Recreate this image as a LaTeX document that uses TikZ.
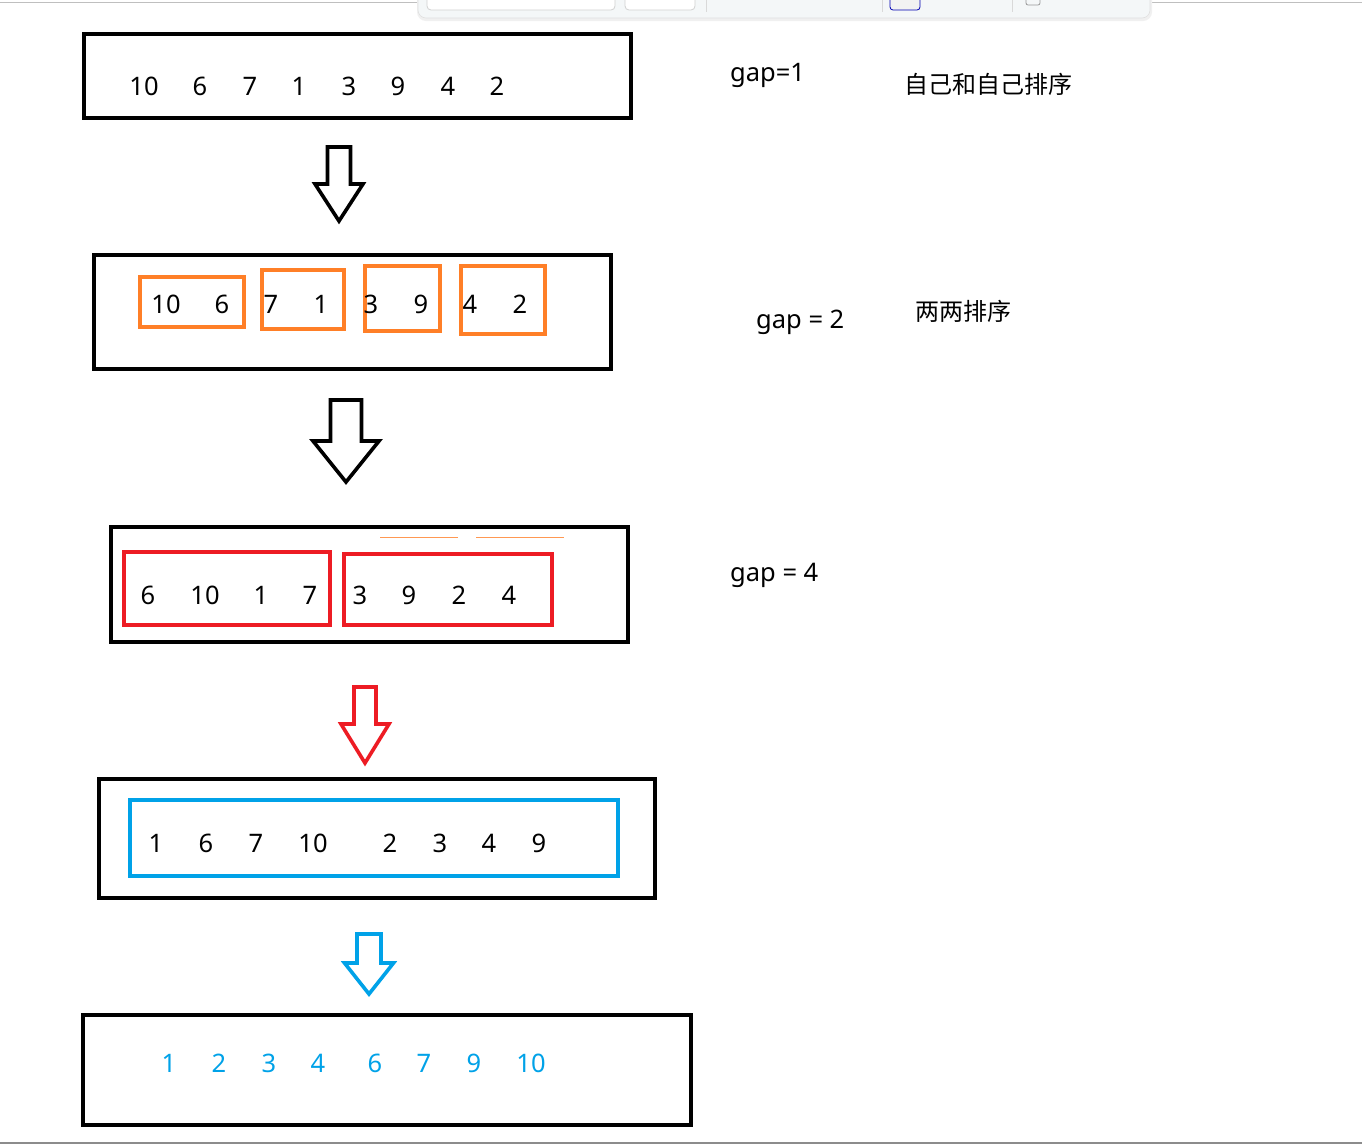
\documentclass[tikz,border=0pt]{standalone}
\usepackage{fontspec}
\setmainfont{Noto Sans}
\newfontfamily\cjk{Noto Sans CJK SC}
\definecolor{porange}{HTML}{FF7F27}
\definecolor{pred}{HTML}{ED1C24}
\definecolor{pblue}{HTML}{00A2E8}
\definecolor{tbfill}{HTML}{F4F7F8}
\newcommand{\bigdownarrow}[7]{%
  % #1 center x, #2 top y, #3 shoulder y, #4 tip y, #5 half shaft, #6 half head, #7 colour
  \draw[line width=3.6pt, draw=#7, line join=miter, fill=white]
    ({#1-#5},#2) -- ({#1+#5},#2) -- ({#1+#5},#3) -- ({#1+#6},#3) -- (#1,#4)
    -- ({#1-#6},#3) -- ({#1-#5},#3) -- cycle;}
\tikzset{
  bbox/.style={draw=black, line width=4pt, inner sep=0pt},
  obox/.style={draw=porange, line width=4pt, inner sep=0pt},
  rbox/.style={draw=pred, line width=4pt, inner sep=0pt},
  cbox/.style={draw=pblue, line width=4pt, inner sep=0pt},
  num/.style={inner sep=0pt, font=\fontsize{25.5}{30}\selectfont, text=black},
  bnum/.style={num, text=pblue},
  lab/.style={inner sep=0pt, anchor=base west, font=\fontsize{25.5}{30}\selectfont},
  clab/.style={inner sep=0pt, anchor=west, font=\cjk\fontsize{24}{28}\selectfont},
  tb/.style={draw=black!18, line width=0.8pt, rounded corners=4pt, fill=white},
}
\begin{document}
\begin{tikzpicture}[x=1pt,y=-1pt]
\useasboundingbox (0,0) rectangle (1362,1144);
\fill[white] (0,0) rectangle (1362,1144);
% screen edges
\draw[black!25, line width=1pt] (0,2.5) -- (1362,2.5);
\draw[black!45, line width=1.5pt] (0,1143) -- (1362,1143);
% toolbar fragment
\fill[black!6, rounded corners=9pt] (417,-12) rectangle (1152,21);
\node[draw=black!12, fill=tbfill, rounded corners=8pt, minimum width=732pt, minimum height=30pt, inner sep=0pt, line width=0.6pt] (toolbar) at (784,3) {};
\node[tb, minimum width=188pt, minimum height=22pt] (tbin) at (521,-1) {};
\node[tb, minimum width=70pt, minimum height=22pt] (tbsz) at (660,-1) {};
\node[draw=blue!70!black, line width=0.8pt, rounded corners=3pt, fill=black!5, minimum width=30pt, minimum height=20pt, inner sep=0pt] (tbcol) at (905,0) {};
\node[draw=black!40, line width=0.8pt, rounded corners=2pt, minimum width=14pt, minimum height=10pt, inner sep=0pt] (tbchk) at (1033,0) {};
\draw[black!15, line width=0.8pt] (706,-3) -- (706,12) (882,-3) -- (882,12) (1012,-3) -- (1012,12);

% ---- row 1
\node[bbox, minimum width=547pt, minimum height=84pt] (B1) at (357.5,76) {};
\foreach \x/\t [count=\i] in {144/10,200/6,250/7,299/1,349/3,398/9,448/4,497/2}
  \node[num] (a\i) at (\x,86) {\t};
\node[lab] (g1) at (730,81) {gap=1};
\node[clab] (c1) at (904,84) {自己和自己排序};
\bigdownarrow{339}{147}{184}{221}{11.5}{24}{black}

% ---- row 2
\node[bbox, minimum width=517pt, minimum height=114pt] (B2) at (352.5,312) {};
\node[obox, minimum width=104pt, minimum height=50pt] (O1) at (192,302) {};
\node[obox, minimum width=82pt, minimum height=59pt] (O2) at (303,299.5) {};
\node[obox, minimum width=75pt, minimum height=65pt] (O3) at (402.5,298.5) {};
\node[obox, minimum width=84pt, minimum height=68pt] (O4) at (503,300) {};
\foreach \x/\t [count=\i] in {166/10,222/6,271/7,321/1,371/3,421/9,470/4,520/2}
  \node[num] (b\i) at (\x,304) {\t};
\node[lab] (g2) at (756,328) {gap = 2};
\node[clab] (c2) at (915,311) {两两排序};
\bigdownarrow{346}{400}{441}{482}{15.5}{33}{black}

% ---- row 3
\node[bbox, minimum width=517pt, minimum height=115pt] (B3) at (369.5,584.5) {};
\draw[porange!80, line width=1pt] (380,537) -- (458,537) (476,537) -- (564,537);
\node[rbox, minimum width=206pt, minimum height=73pt] (R1) at (227,588.5) {};
\node[rbox, minimum width=208pt, minimum height=71pt] (R2) at (448,589.5) {};
\foreach \x/\t [count=\i] in {148/6,205/10,261/1,310/7,360/3,409/9,459/2,509/4}
  \node[num] (c\i) at (\x,595) {\t};
\node[lab] (g3) at (730,581) {gap = 4};
\bigdownarrow{365}{687}{724}{763}{11}{24}{pred}

% ---- row 4
\node[bbox, minimum width=556pt, minimum height=119pt] (B4) at (377,838.5) {};
\node[cbox, minimum width=488pt, minimum height=76pt] (BL) at (374,838) {};
\foreach \x/\t [count=\i] in {156/1,206/6,256/7,313/10,390/2,440/3,489/4,539/9}
  \node[num] (d\i) at (\x,843) {\t};
\bigdownarrow{369}{934}{963}{994}{12}{24.5}{pblue}

% ---- row 5
\node[bbox, minimum width=608pt, minimum height=110pt] (B5) at (387,1070) {};
\foreach \x/\t [count=\i] in {169/1,219/2,269/3,318/4,375/6,424/7,474/9,531/10}
  \node[bnum] (e\i) at (\x,1063) {\t};
\end{tikzpicture}
\end{document}
